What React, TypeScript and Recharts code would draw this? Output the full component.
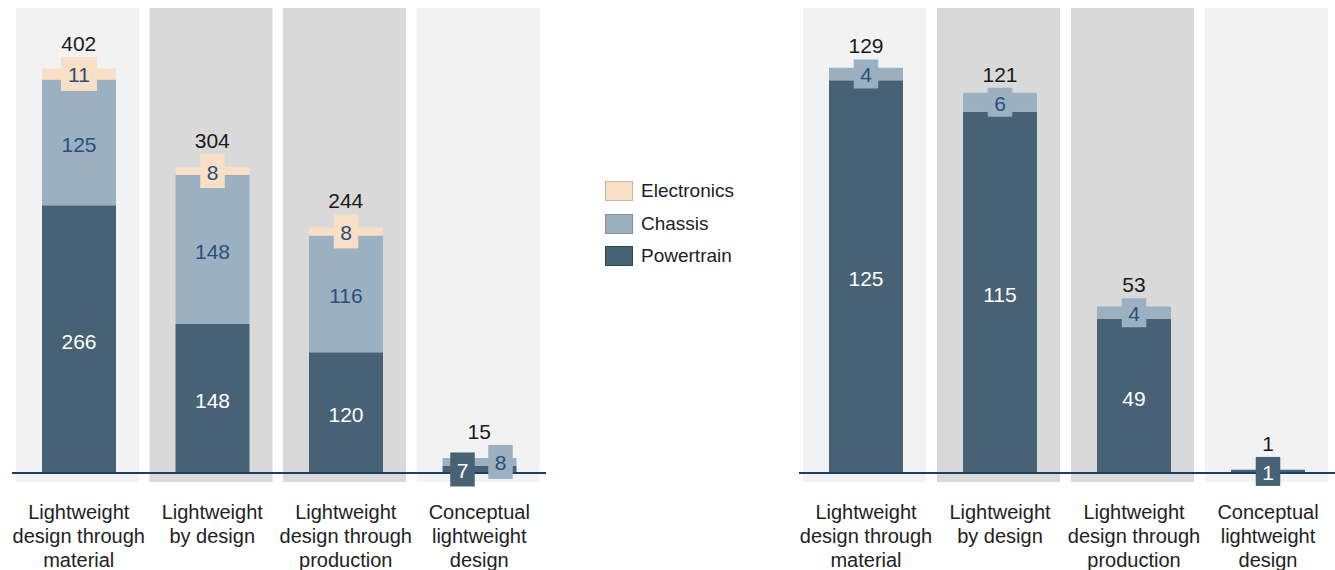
import React from "react";
import { ComposedChart, Bar, Line, XAxis, YAxis, Legend, LabelList } from "recharts";

// ---------- data ----------
const categories = [
  "Lightweight\ndesign through\nmaterial",
  "Lightweight\nby design",
  "Lightweight\ndesign through\nproduction",
  "Conceptual\nlightweight\ndesign",
];
const seriesNames = ["Powertrain", "Chassis", "Electronics"];

const leftPowertrain = [266, 148, 120, 7];
const leftChassis = [125, 148, 116, 8];
const leftElectronics = [11, 8, 8, 0];
const leftTotals = [402, 304, 244, 15];

const rightPowertrain = [125, 115, 49, 1];
const rightChassis = [4, 6, 4, 0];
const rightElectronics = [0, 0, 0, 0];
const rightTotals = [129, 121, 53, 1];

// ---------- style ----------
const FONT = "'Liberation Sans', Arial, sans-serif";
const C_POWER = "#466274";
const C_CHASSIS = "#9bb1c1";
const C_ELEC = "#f8dfc5";
const C_LABEL_BLUE = "#2b4f7a";
const C_AXIS = "#1d3e66";
const PANEL_FILLS = ["#f2f2f2", "#d9d9d9", "#d9d9d9", "#f2f2f2"];
const CHART_H = 570;
const MARGIN_TOP = 8;
const XAXIS_H = 97;
const PLOT_BOTTOM = CHART_H - XAXIS_H;
const SMALL = 28;
const VALUE_FS = 21;

type Row = { name: string; Powertrain: number; Chassis: number; Electronics: number; total: number };

const buildRows = (p: number[], c: number[], e: number[], t: number[]): Row[] =>
  categories.map((name, i) => ({ name, Powertrain: p[i], Chassis: c[i], Electronics: e[i], total: t[i] }));

const leftRows = buildRows(leftPowertrain, leftChassis, leftElectronics, leftTotals);
const rightRows = buildRows(rightPowertrain, rightChassis, rightElectronics, rightTotals);

const fillOf: Record<string, string> = { Powertrain: C_POWER, Chassis: C_CHASSIS, Electronics: C_ELEC };
const textOf: Record<string, string> = { Powertrain: "#ffffff", Chassis: C_LABEL_BLUE, Electronics: C_LABEL_BLUE };

const PanelBackground = (props: any) => {
  const { x, y, width, height, index } = props;
  const cx = x + width / 2;
  const w = 123;
  return <rect x={cx - w / 2 - 1.5} y={y} width={w} height={height + 9} fill={PANEL_FILLS[index % 4]} />;
};

const makeSegLabel = (rows: Row[], key: string, boxH: number) => (props: any) => {
  const vb = props.viewBox || {};
  const x = props.x ?? vb.x;
  const y = props.y ?? vb.y;
  const width = props.width ?? vb.width;
  const rawH = props.height ?? vb.height;
  const height = Math.abs(rawH);
  const value = props.value;
  const index = props.index;
  if (!value) return null;
  const cx = x + width / 2;
  const top = Math.min(y, y + rawH);
  const cy = top + height / 2;
  const label = String(value);
  if (height >= SMALL) {
    return (
      <text x={cx} y={cy + 2} textAnchor="middle" dominantBaseline="central" fill={textOf[key]} fontSize={VALUE_FS} fontFamily={FONT}>
        {label}
      </text>
    );
  }
  const row = rows[index];
  const ppu = height / value;
  let dx = 0;
  const pSmall = row.Powertrain > 0 && row.Powertrain * ppu < SMALL;
  const cSmall = row.Chassis > 0 && row.Chassis * ppu < SMALL;
  if (pSmall && cSmall) {
    if (key === "Powertrain") dx = -17;
    if (key === "Chassis") dx = 21;
  }
  const bw = label.length * 11.5 + 13;
  return (
    <g>
      <rect x={cx + dx - bw / 2} y={cy - boxH / 2} width={bw} height={boxH} fill={fillOf[key]} />
      <text x={cx + dx} y={cy + 1} textAnchor="middle" dominantBaseline="central" fill={textOf[key]} fontSize={VALUE_FS} fontFamily={FONT}>
        {label}
      </text>
    </g>
  );
};

const makeTotalLabel = (rows: Row[], boxH: number) => (props: any) => {
  const { x, y, value, index } = props;
  if (value == null) return null;
  const row = rows[index];
  const ppu = (PLOT_BOTTOM - y) / value;
  const segs = [row.Powertrain, row.Chassis, row.Electronics];
  let topVal = 0;
  for (const s of segs) if (s > 0) topVal = s;
  const h = topVal * ppu;
  let center = y - 14;
  if (h < SMALL) {
    const boxTop = y + h / 2 - boxH / 2;
    center = boxTop - 13.5;
  }
  return (
    <text x={x} y={center} textAnchor="middle" dominantBaseline="central" fill="#1a1a1a" fontSize={VALUE_FS} fontFamily={FONT}>
      {String(value)}
    </text>
  );
};

const CategoryTick = (props: any) => {
  const { x, y, payload } = props;
  const lines = String(payload.value).split("\n");
  return (
    <text textAnchor="middle" fill="#222" fontSize={20} fontFamily={FONT}>
      {lines.map((l, i) => (
        <tspan key={i} x={x} y={y + 46 + i * 24}>
          {l}
        </tspan>
      ))}
    </text>
  );
};

const legendOrder = ["Electronics", "Chassis", "Powertrain"];
const legendBorder: Record<string, string> = { Electronics: "#c9b49c", Chassis: "#7a909f", Powertrain: "#2f4654" };

const LegendContent = () => (
  <div style={{ fontFamily: FONT, fontSize: 19, color: "#222" }}>
    {legendOrder.map((k) => (
      <div key={k} style={{ display: "flex", alignItems: "center", height: 32.5 }}>
        <div style={{ width: 26, height: 18, background: fillOf[k], border: `1px solid ${legendBorder[k]}`, marginRight: 8 }} />
        <span>{k}</span>
      </div>
    ))}
  </div>
);

const PanelChart = ({ rows, width, marginLeft, marginRight, yMax, boxH, withLegend }: any) => (
  <ComposedChart
    width={width}
    height={CHART_H}
    data={rows}
    margin={{ top: MARGIN_TOP, right: marginRight, bottom: 0, left: marginLeft }}
    barSize={74}
  >
    <YAxis hide domain={[0, yMax]} type="number" allowDataOverflow />
    {seriesNames.map((k, i) => (
      <Bar
        key={k}
        dataKey={k}
        stackId="s"
        fill={fillOf[k]}
        isAnimationActive={false}
        background={i === 0 ? <PanelBackground /> : undefined}
      >
        <LabelList dataKey={k} content={makeSegLabel(rows, k, boxH)} />
      </Bar>
    ))}
    <XAxis
      dataKey="name"
      height={XAXIS_H}
      interval={0}
      tickLine={false}
      tickSize={0}
      tickMargin={0}
      axisLine={{ stroke: C_AXIS, strokeWidth: 2 }}
      tick={<CategoryTick />}
    />
    <Line
      dataKey="total"
      stroke="none"
      dot={false}
      activeDot={false}
      legendType="none"
      isAnimationActive={false}
      label={makeTotalLabel(rows, boxH)}
    />
    {withLegend && (
      <Legend
        layout="vertical"
        align="center"
        verticalAlign="middle"
        content={<LegendContent />}
        wrapperStyle={{ left: 605, top: 175, width: 160, height: 100 }}
      />
    )}
  </ComposedChart>
);

export default function App() {
  return (
    <div style={{ position: "absolute", left: 0, top: 0, width: 1335, height: 570, background: "#ffffff", overflow: "hidden" }}>
      <div style={{ position: "absolute", left: 0, top: 0 }}>
        <PanelChart rows={leftRows} width={785} marginLeft={12} marginRight={239} yMax={462} boxH={34} withLegend />
      </div>
      <div style={{ position: "absolute", left: 785, top: 0 }}>
        <PanelChart rows={rightRows} width={550} marginLeft={14} marginRight={0} yMax={148} boxH={29} withLegend={false} />
      </div>
    </div>
  );
}
